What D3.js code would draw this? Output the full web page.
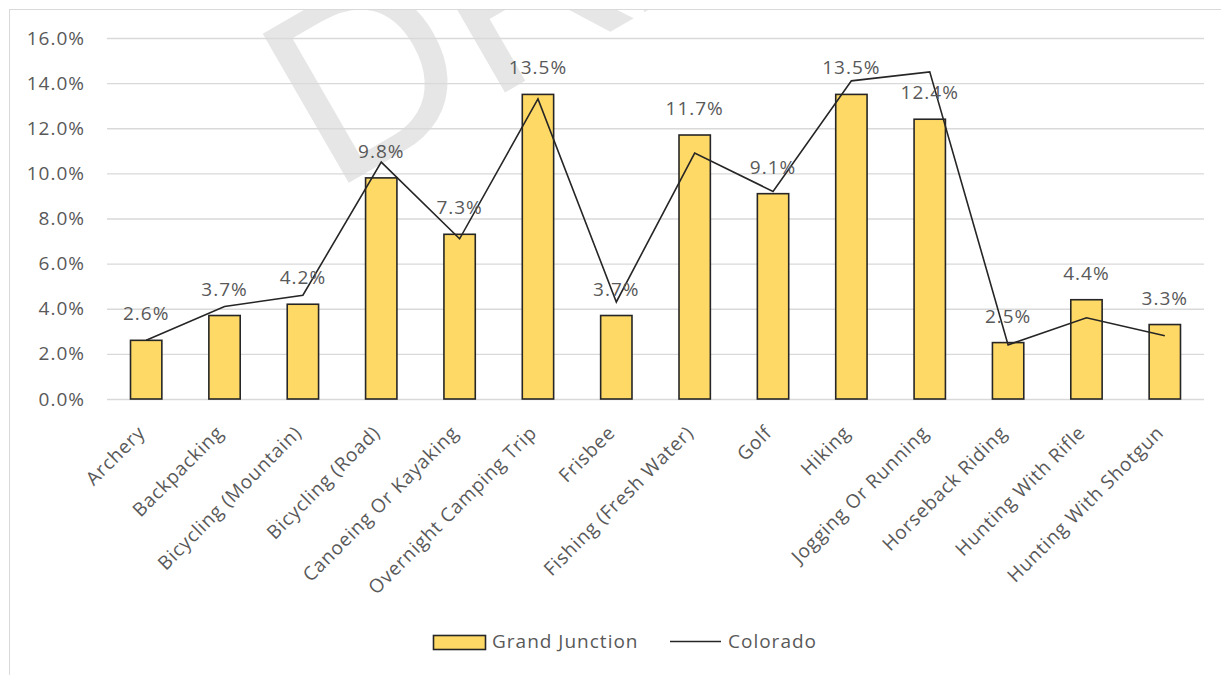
<!DOCTYPE html>
<html><head><meta charset="utf-8">
<script src="https://cdn.jsdelivr.net/npm/d3@7"></script>
<style>html,body{margin:0;padding:0;background:#fff;}svg{display:block;}</style>
</head><body>
<svg id="chart" width="1221" height="675"></svg>
<script>
const categories = ["Archery","Backpacking","Bicycling (Mountain)","Bicycling (Road)","Canoeing Or Kayaking","Overnight Camping Trip","Frisbee","Fishing (Fresh Water)","Golf","Hiking","Jogging Or Running","Horseback Riding","Hunting With Rifle","Hunting With Shotgun"];
const grandJunction = [2.6,3.7,4.2,9.8,7.3,13.5,3.7,11.7,9.1,13.5,12.4,2.5,4.4,3.3];
const colorado = [2.6,4.1,4.6,10.5,7.1,13.3,4.3,10.9,9.2,14.1,14.5,2.4,3.6,2.8];
const yTicks = [0,2,4,6,8,10,12,14,16];
const seriesNames = ["Grand Junction","Colorado"];

const svg = d3.select("#chart");
const font = "'Open Sans', sans-serif";
const textColor = "#595959";

// outer border
svg.append("rect").attr("x",9.5).attr("y",9.5).attr("width",1240).attr("height",700)
  .attr("fill","#fff").attr("stroke","#d9d9d9").attr("stroke-width",1);

const plot = {left:107, right:1204, top:38, bottom:399};
const x = d3.scaleBand().domain(categories).range([plot.left, plot.right]).paddingInner(0.6).paddingOuter(0.3);
const xc = d => x(d) + x.bandwidth()/2;
const y = d3.scaleLinear().domain([0,16]).range([plot.bottom, plot.top]);

// watermark (clipped to the chart frame)
svg.append("clipPath").attr("id","frame").append("rect").attr("x",10).attr("y",10).attr("width",1211).attr("height",665);
svg.append("g").attr("clip-path","url(#frame)").append("text").attr("transform","translate(331,193) rotate(-30)")
  .attr("font-family","'Liberation Sans', Arial, sans-serif").attr("font-size",250)
  .attr("fill","#e6e6e6").text("DRAFT");

// gridlines + y axis
const yAxis = d3.axisLeft(y).tickValues(yTicks).tickSize(-(plot.right-plot.left)).tickFormat(d => d.toFixed(1)+"%").tickPadding(22);
const gy = svg.append("g").attr("transform",`translate(${plot.left},0)`).call(yAxis);
gy.select(".domain").remove();
gy.selectAll(".tick line").attr("stroke","#d9d9d9").attr("stroke-width",1.3);
gy.selectAll(".tick text").attr("font-family",font).attr("font-size",19).attr("fill",textColor).attr("letter-spacing",1);

// x axis labels
const xAxis = d3.axisBottom(x).tickSize(0).tickPadding(0);
const gx = svg.append("g").attr("transform",`translate(0,${plot.bottom})`).call(xAxis);
gx.select(".domain").remove();
gx.selectAll(".tick text").attr("font-family",font).attr("font-size",19).attr("fill",textColor)
  .attr("letter-spacing",0.8)
  .attr("text-anchor","end").attr("dy",0).attr("y",0)
  .attr("transform","translate(0,35) rotate(-45)");

// bars
svg.append("g").selectAll("rect").data(grandJunction).join("rect")
  .attr("x",(d,i)=>x(categories[i])).attr("y",d=>y(d))
  .attr("width",x.bandwidth()).attr("height",d=>y(0)-y(d))
  .attr("fill","#FFD966").attr("stroke","#262626").attr("stroke-width",1.6);

// line
const line = d3.line().x((d,i)=>xc(categories[i])).y(d=>y(d));
svg.append("path").datum(colorado).attr("d",line).attr("fill","none")
  .attr("stroke","#262626").attr("stroke-width",1.6).attr("stroke-linejoin","miter");

// data labels
svg.append("g").selectAll("text").data(grandJunction).join("text")
  .attr("x",(d,i)=>xc(categories[i])).attr("y",d=>y(d)-20)
  .attr("text-anchor","middle").attr("font-family",font).attr("font-size",19)
  .attr("letter-spacing",1).attr("fill",textColor).text(d=>d.toFixed(1)+"%");

// legend
const lg = svg.append("g");
lg.append("rect").attr("x",433.5).attr("y",635.5).attr("width",52).attr("height",14)
  .attr("fill","#FFD966").attr("stroke","#262626").attr("stroke-width",1.6);
lg.append("text").attr("x",492).attr("y",648).attr("font-family",font).attr("font-size",19)
  .attr("letter-spacing",1).attr("fill",textColor).text(seriesNames[0]);
lg.append("line").attr("x1",670).attr("x2",721).attr("y1",641.5).attr("y2",641.5)
  .attr("stroke","#262626").attr("stroke-width",1.6);
lg.append("text").attr("x",728).attr("y",648).attr("font-family",font).attr("font-size",19)
  .attr("letter-spacing",1).attr("fill",textColor).text(seriesNames[1]);
</script>
</body></html>
